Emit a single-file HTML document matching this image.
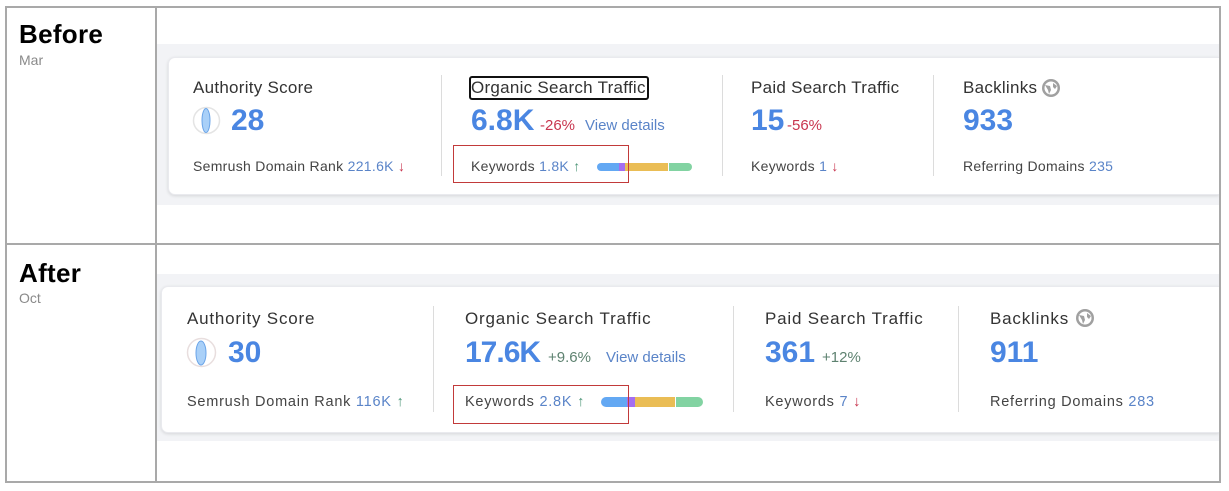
<!DOCTYPE html>
<html><head><meta charset="utf-8"><style>
*{margin:0;padding:0;box-sizing:border-box}
body{width:1229px;height:491px;background:#fff;position:relative;overflow:hidden;font-family:"Liberation Sans",Arial,sans-serif;color:#333}
.a{position:absolute;white-space:nowrap;line-height:1}
.ln{position:absolute;background:#a9a9a9;z-index:5}
.band{position:absolute;background:#f2f3f6}
.card{position:absolute;background:#fff;border-radius:7px 0 0 7px;box-shadow:0 1px 3px rgba(0,0,0,0.12);border:1px solid #e9eaee;border-right:none}
.vd{position:absolute;width:1px;background:#dcdcdc}
.h{font-size:26px;font-weight:bold;color:#000;letter-spacing:0.3px}
.m{font-size:14px;color:#8a8a8a}
.lb{font-size:17px;color:#333;letter-spacing:0.27px}
.lb2{font-size:17px;color:#333;letter-spacing:0.8px}
.v{font-size:30px;font-weight:bold;color:#4a86e2}
.s{font-size:14px;color:#444;letter-spacing:0.3px}
.s2{font-size:14.5px;color:#444;letter-spacing:0.75px}
.bl{color:#5a84c8}
.rd{color:#c8354e}
.gr{color:#4d9678}
.pc{font-size:15px}
.vdl{font-size:15px;color:#5a84c8}
.bar{position:absolute}
.rb{position:absolute;border:1.5px solid #c23a3a}
</style></head><body>

<!-- table borders -->
<div class="ln" style="left:5px;top:6px;width:1216px;height:2px"></div>
<div class="ln" style="left:5px;top:243px;width:1216px;height:2px"></div>
<div class="ln" style="left:5px;top:481px;width:1216px;height:2px"></div>
<div class="ln" style="left:5px;top:6px;width:2px;height:477px"></div>
<div class="ln" style="left:155px;top:6px;width:2px;height:477px"></div>
<div class="ln" style="left:1219px;top:6px;width:2px;height:477px"></div>

<!-- BEFORE -->
<div class="a h" style="left:19px;top:21px">Before</div>
<div class="a m" style="left:19px;top:53px">Mar</div>

<div class="band" style="left:157px;top:44px;width:1062px;height:161px"></div>
<div class="card" style="left:168px;top:57px;width:1051px;height:138px"></div>

<div class="vd" style="left:441px;top:75px;height:101px"></div>
<div class="vd" style="left:722px;top:75px;height:101px"></div>
<div class="vd" style="left:933px;top:75px;height:101px"></div>

<div class="a lb" style="left:193px;top:79px">Authority Score</div>
<svg class="a" style="left:192px;top:106px" width="29" height="29" viewBox="0 0 29 29"><circle cx="14.5" cy="14.5" r="13" fill="none" stroke="#e4e4e4" stroke-width="1.5"/><ellipse cx="14" cy="14.5" rx="4" ry="12" fill="#a9d0f8" stroke="#6aa4e8" stroke-width="1"/></svg>
<div class="a v" style="left:231px;top:106px">28</div>
<div class="a s" style="left:193px;top:159px">Semrush Domain Rank <span class="bl">221.6K</span> <span class="rd">&#8595;</span></div>

<div class="a lb" style="left:471px;top:79px">Organic Search Traffic</div>
<div style="position:absolute;left:469px;top:76px;width:180px;height:24px;border:2px solid #111;border-radius:3px"></div>
<div class="a v" style="left:471px;top:106px">6.8K</div>
<div class="a pc rd" style="left:540px;top:118px">-26%</div>
<div class="a vdl" style="left:585px;top:118px">View details</div>
<div class="a s" style="left:471px;top:159px">Keywords <span class="bl">1.8K</span> <span class="gr">&#8593;</span></div>
<div class="bar" style="left:597px;top:163px;width:22px;height:8px;background:#63a8f3;border-radius:4px 0 0 4px"></div>
<div class="bar" style="left:619px;top:163px;width:6px;height:8px;background:#a46ef0"></div>
<div class="bar" style="left:625px;top:163px;width:43px;height:8px;background:#eabd55"></div>
<div class="bar" style="left:669px;top:163px;width:23px;height:8px;background:#82d3a2;border-radius:0 4px 4px 0"></div>
<div class="rb" style="left:453px;top:145px;width:176px;height:38px"></div>

<div class="a lb" style="left:751px;top:79px">Paid Search Traffic</div>
<div class="a v" style="left:751px;top:106px">15</div>
<div class="a pc rd" style="left:787px;top:118px">-56%</div>
<div class="a s" style="left:751px;top:159px">Keywords <span class="bl">1</span> <span class="rd">&#8595;</span></div>

<div class="a lb" style="left:963px;top:79px">Backlinks</div>
<svg class="a" style="left:1041px;top:78px" width="20" height="20" viewBox="0 0 20 20"><circle cx="10" cy="10" r="9" fill="#a0a0a0"/><circle cx="10" cy="10" r="6.5" fill="#fff"/><path d="M4 7 L9 8 L10 12 L8 16 L7 12 Z M12 5 L16 8 L14 11 L12 9 Z" fill="#a0a0a0"/></svg>
<div class="a v" style="left:963px;top:106px">933</div>
<div class="a s" style="left:963px;top:159px">Referring Domains <span class="bl">235</span></div>

<!-- AFTER -->
<div class="a h" style="left:19px;top:260px">After</div>
<div class="a m" style="left:19px;top:291px">Oct</div>

<div class="band" style="left:157px;top:274px;width:1062px;height:167px"></div>
<div class="card" style="left:161px;top:286px;width:1058px;height:147px"></div>

<div class="vd" style="left:433px;top:306px;height:106px"></div>
<div class="vd" style="left:733px;top:306px;height:106px"></div>
<div class="vd" style="left:958px;top:306px;height:106px"></div>

<div class="a lb2" style="left:187px;top:310px">Authority Score</div>
<svg class="a" style="left:186px;top:337px" width="31" height="31" viewBox="0 0 31 31"><circle cx="15.5" cy="15.5" r="14" fill="none" stroke="#e8dede" stroke-width="1.5"/><ellipse cx="15" cy="16" rx="5" ry="12" fill="#a9d0f8" stroke="#6aa4e8" stroke-width="1"/></svg>
<div class="a v" style="left:228px;top:338px">30</div>
<div class="a s2" style="left:187px;top:395px">Semrush Domain Rank <span class="bl">116K</span> <span class="gr">&#8593;</span></div>

<div class="a lb2" style="left:465px;top:310px">Organic Search Traffic</div>
<div class="a v" style="left:465px;top:338px;letter-spacing:-1px">17.6K</div>
<div class="a pc" style="left:548px;top:350px;color:#5e8270">+9.6%</div>
<div class="a vdl" style="left:606px;top:350px">View details</div>
<div class="a s2" style="left:465px;top:395px">Keywords <span class="bl">2.8K</span> <span class="gr">&#8593;</span></div>
<div class="bar" style="left:601px;top:397px;width:26px;height:10px;background:#63a8f3;border-radius:5px 0 0 5px"></div>
<div class="bar" style="left:627px;top:397px;width:8px;height:10px;background:#a46ef0"></div>
<div class="bar" style="left:635px;top:397px;width:40px;height:10px;background:#eabd55"></div>
<div class="bar" style="left:676px;top:397px;width:27px;height:10px;background:#82d3a2;border-radius:0 5px 5px 0"></div>
<div class="rb" style="left:453px;top:385px;width:176px;height:39px"></div>

<div class="a lb2" style="left:765px;top:310px">Paid Search Traffic</div>
<div class="a v" style="left:765px;top:338px">361</div>
<div class="a pc" style="left:822px;top:350px;color:#5e8270">+12%</div>
<div class="a s2" style="left:765px;top:395px">Keywords <span class="bl">7</span> <span class="rd">&#8595;</span></div>

<div class="a lb2" style="left:990px;top:310px">Backlinks</div>
<svg class="a" style="left:1075px;top:308px" width="20" height="20" viewBox="0 0 20 20"><circle cx="10" cy="10" r="9" fill="#a0a0a0"/><circle cx="10" cy="10" r="6.5" fill="#fff"/><path d="M4 7 L9 8 L10 12 L8 16 L7 12 Z M12 5 L16 8 L14 11 L12 9 Z" fill="#a0a0a0"/></svg>
<div class="a v" style="left:990px;top:338px">911</div>
<div class="a s2" style="left:990px;top:395px">Referring Domains <span class="bl">283</span></div>

</body></html>
